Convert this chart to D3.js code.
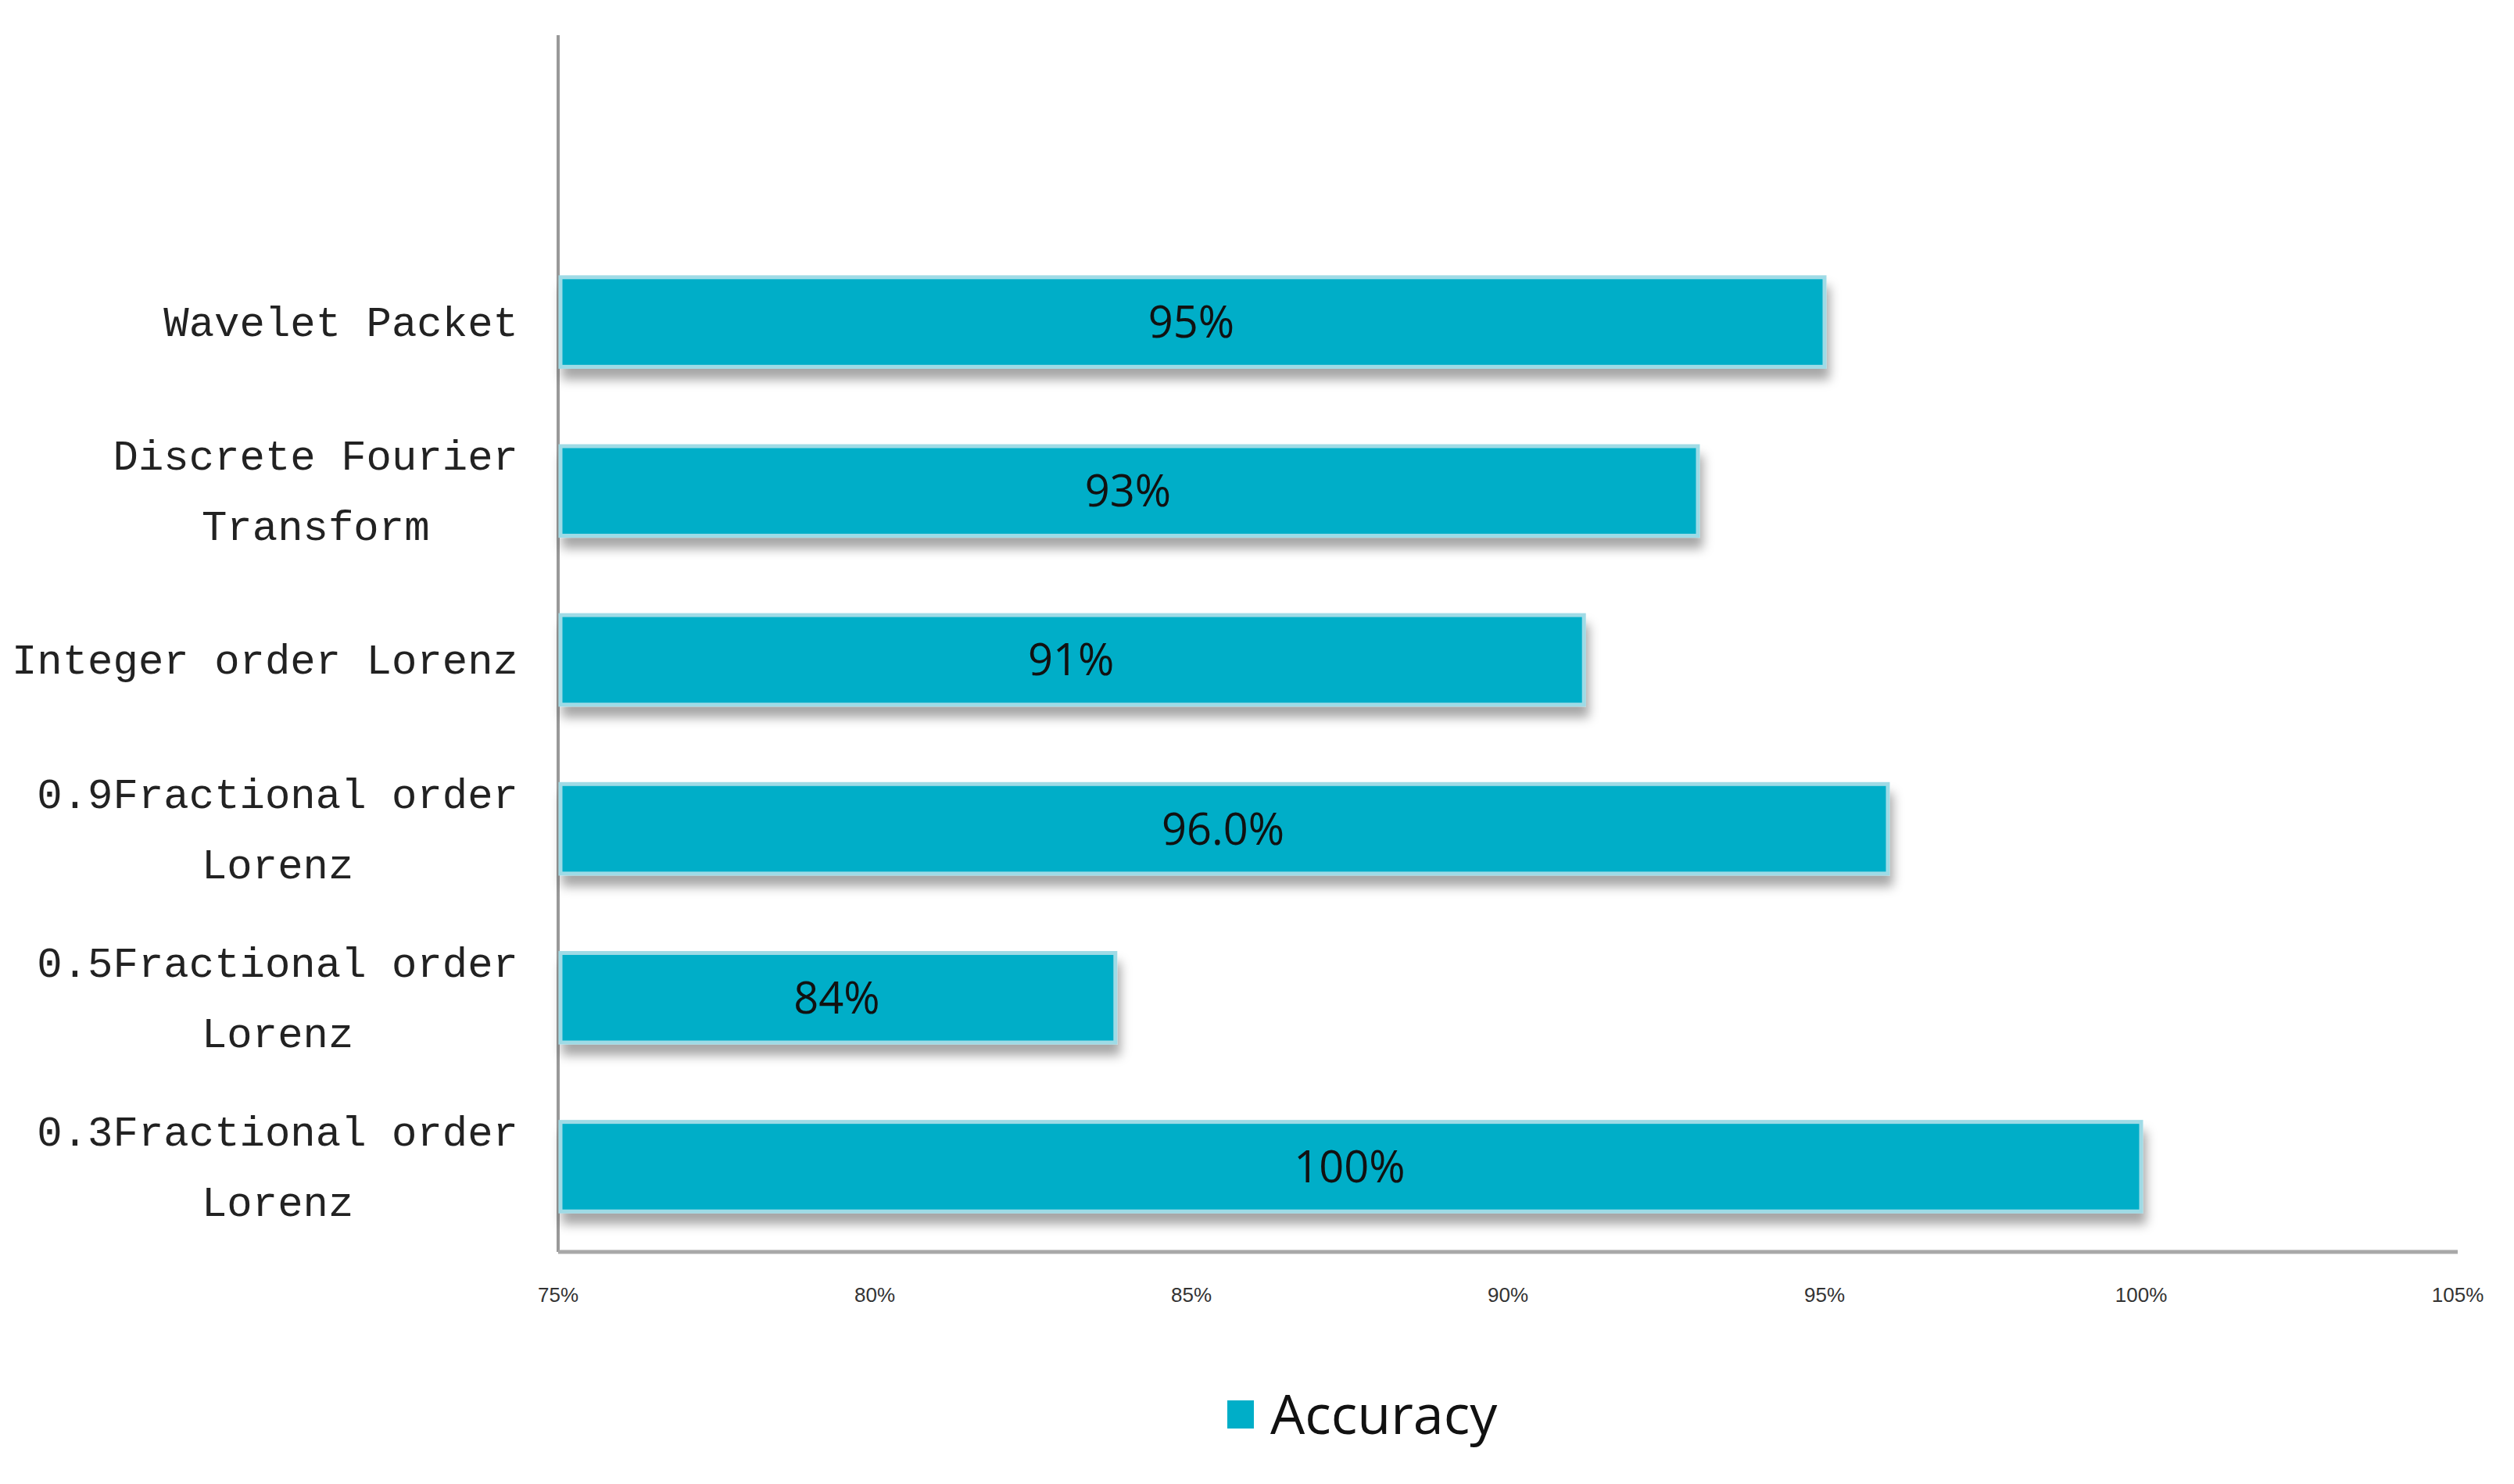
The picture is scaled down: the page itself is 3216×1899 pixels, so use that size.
<!DOCTYPE html>
<html><head><meta charset="utf-8">
<script src="https://cdn.jsdelivr.net/npm/d3@7"></script>
<style>body{margin:0;background:#fff}</style></head>
<body><svg id="c" width="3216" height="1899"></svg>
<script>
const categories = [["Wavelet Packet"],["Discrete Fourier","Transform"],["Integer order Lorenz"],["0.9Fractional order","Lorenz"],["0.5Fractional order","Lorenz"],["0.3Fractional order","Lorenz"]];
const values = [0.95, 0.93, 0.912, 0.96, 0.838, 1.0];
const valueLabels = ["95%","93%","91%","96.0%","84%","100%"];
const ticks = [0.75,0.80,0.85,0.90,0.95,1.00,1.05];
const seriesName = "Accuracy";

const svg = d3.select("#c");
const defs = svg.append("defs");
const f = defs.append("filter").attr("id","sh").attr("x","-5%").attr("y","-20%").attr("width","110%").attr("height","160%");
f.append("feDropShadow").attr("dx",4).attr("dy",14).attr("stdDeviation",7).attr("flood-color","#000").attr("flood-opacity",0.35);

const x = d3.scaleLinear().domain([0.75,1.05]).range([714,3144]);
const y = d3.scaleBand().domain(d3.range(categories.length)).range([304,1601]).paddingInner(0.47).paddingOuter(0.235);
const color = "#00aec8";

// axes
svg.append("line").attr("x1",714).attr("x2",714).attr("y1",45).attr("y2",1602).attr("stroke","#999").attr("stroke-width",4);
svg.append("line").attr("x1",714).attr("x2",3144).attr("y1",1602).attr("y2",1602).attr("stroke","#a8a8a8").attr("stroke-width",5);

const bars = svg.append("g");
bars.selectAll("rect").data(values).join("rect")
  .attr("x",x(0.75)+3).attr("y",(d,i)=>y(i)).attr("height",y.bandwidth())
  .attr("width",d=>x(d)-x(0.75)-3).attr("fill",color)
  .attr("stroke","#9fdbe6").attr("stroke-width",5).attr("filter","url(#sh)");

svg.append("g").selectAll("text").data(values).join("text")
  .attr("x",d=>(x(0.75)+x(d))/2).attr("y",(d,i)=>y(i)+y.bandwidth()/2+20)
  .attr("text-anchor","middle").attr("font-family","Open Sans").attr("font-size",56)
  .attr("fill","#111").text((d,i)=>valueLabels[i]);

// category labels
const lg = svg.append("g");
categories.forEach((lines,i)=>{
  const cy = y(i)+y.bandwidth()/2;
  const t = lg.append("text").attr("font-family","Liberation Mono").attr("font-size",54)
    .attr("fill","#222").attr("text-anchor","end");
  lines.forEach((s,j)=>{
    const dy = (j-(lines.length-1)/2)*90 + 18;
    const xx = lines.length>1 && j==1 ? (663 - (s.length<lines[0].length ? 0:0)) : 663;
    t.append("tspan").attr("x", j==0?663: 663-(lines[0].length-s.length)*32.4/2).attr("y",cy+dy).text(s);
  });
});

// ticks
svg.append("g").selectAll("text").data(ticks).join("text")
  .attr("x",d=>x(d)).attr("y",1666).attr("text-anchor","middle")
  .attr("font-family","Liberation Sans Narrow, Liberation Sans").attr("font-size",26).attr("fill","#333")
  .text(d=>d3.format(".0%")(d));

// legend
svg.append("rect").attr("x",1570).attr("y",1792).attr("width",34).attr("height",36).attr("fill",color);
svg.append("text").attr("x",1625).attr("y",1835).attr("font-family","Open Sans").attr("font-size",70).attr("fill","#111").text(seriesName);
</script></body></html>
